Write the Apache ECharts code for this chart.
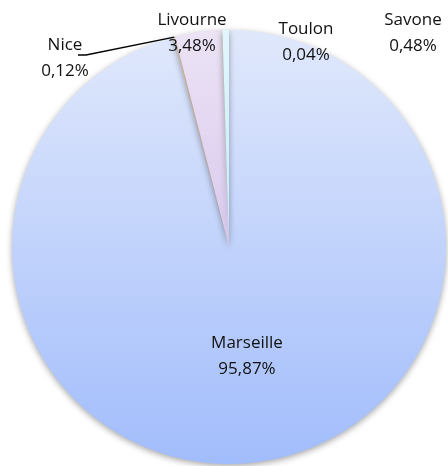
<!DOCTYPE html>
<html><head><meta charset="utf-8">
<script src="https://cdn.jsdelivr.net/npm/echarts@6/dist/echarts.min.js"></script>
<style>html,body{margin:0;padding:0;background:#fff}#c{width:448px;height:466px}</style>
</head><body><div id="c"></div>
<script>
const categories = ['Marseille', 'Nice', 'Livourne', 'Toulon', 'Savone'];
const values = [95.87, 0.12, 3.48, 0.04, 0.48];
const labels = ['95,87%', '0,12%', '3,48%', '0,04%', '0,48%'];

const grad = (a, b) => new echarts.graphic.LinearGradient(0, 0, 0, 1, [{offset: 0, color: a}, {offset: 1, color: b}]);
const colors = [
  grad('#e0e8fb', '#a2bdfc'),
  grad('#f6d9c2', '#eab693'),
  grad('#ece3f5', '#d9c9ee'),
  grad('#e6f0d4', '#cfe0b0'),
  grad('#e2f6fc', '#c4ecfa')
];
const labelPos = [[247, 356], [65, 58], [192, 33], [306, 42], [413, 33]];

const chart = echarts.init(document.getElementById('c'));
chart.setOption({
  animation: false,
  series: [{
    type: 'pie',
    center: [229, 247],
    radius: [0, 217],
    startAngle: 90,
    clockwise: true,
    avoidLabelOverlap: false,
    data: categories.map((n, i) => ({
      name: n, value: values[i],
      itemStyle: {color: colors[i]}
    })),
    itemStyle: {
      borderWidth: 0,
      shadowBlur: 6, shadowColor: 'rgba(0,0,0,0.35)', shadowOffsetY: 2
    },
    label: {
      show: true,
      position: 'outside',
      formatter: p => p.name + '\n' + labels[p.dataIndex],
      fontFamily: 'Open Sans',
      fontSize: 17,
      lineHeight: 26,
      color: '#111',
      align: 'center'
    },
    labelLine: {show: false},
    labelLayout: p => {
      const pos = labelPos[p.dataIndex];
      return {x: pos[0], y: pos[1], align: 'center', verticalAlign: 'middle'};
    }
  }],
  graphic: []
});
// leader line for Nice label
const nice = chart.getModel().getSeriesByIndex(0).getData().getItemLayout(1);
const ang = (nice.startAngle + nice.endAngle) / 2;
const ex = nice.cx + nice.r * Math.cos(ang), ey = nice.cy + nice.r * Math.sin(ang);
chart.setOption({graphic: [{
  type: 'polyline', z: 100,
  shape: {points: [[78, 55], [86, 55], [ex, ey]]},
  style: {stroke: '#000', lineWidth: 1.3, fill: null}
}]});
</script></body></html>
